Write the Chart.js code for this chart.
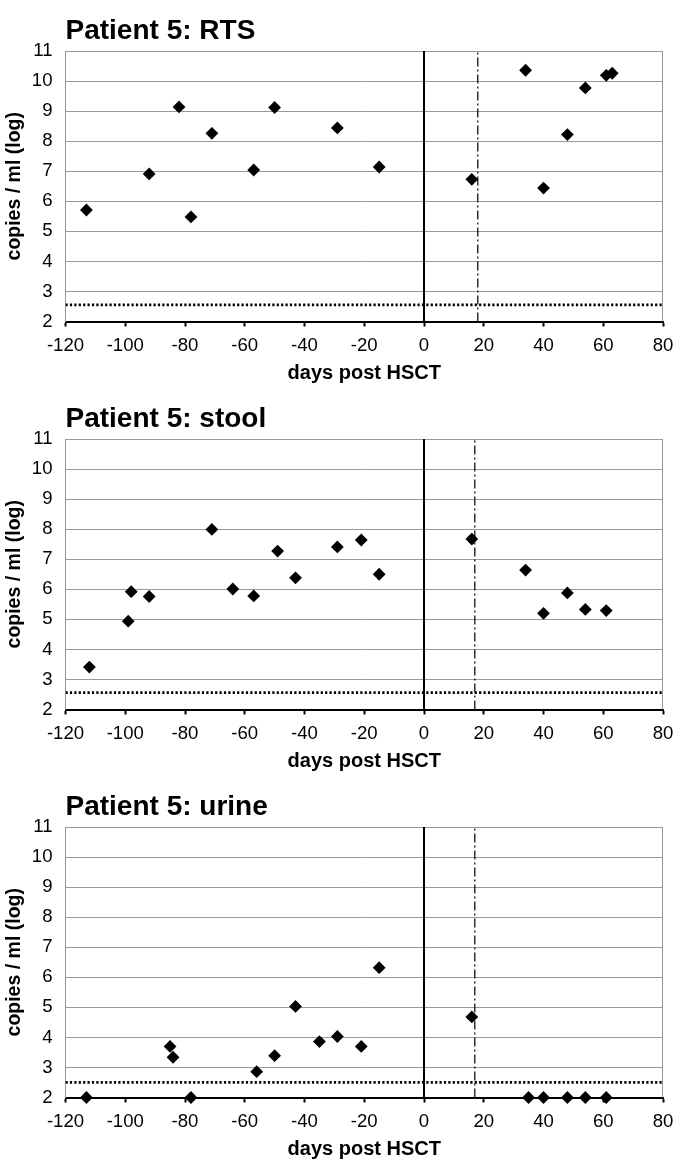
<!DOCTYPE html>
<html lang="en">
<head>
  <meta charset="UTF-8">
  <title>Patient 5</title>
  <script src="https://cdn.jsdelivr.net/npm/chart.js"></script>
  <style>
    body { margin: 0; background: #FFFFFF; }
    canvas { display: block; }
  </style>
</head>
<body>
  <canvas id="graficoRts" width="685" height="388"></canvas>
  <canvas id="graficoStool" width="685" height="388"></canvas>
  <canvas id="graficoUrine" width="685" height="388"></canvas>

  <script>
    const titulos = ["Patient 5: RTS", "Patient 5: stool", "Patient 5: urine"];
    const xTickLabels = [-120, -100, -80, -60, -40, -20, 0, 20, 40, 60, 80];
    const yTickLabels = [2, 3, 4, 5, 6, 7, 8, 9, 10, 11];

    const rtsDays = [-113, -92, -82, -78, -71, -57, -50, -29, -15, 16, 34, 40, 48, 54, 61, 63];
    const rtsLoad = [5.71, 6.91, 9.14, 5.48, 8.26, 7.04, 9.12, 8.44, 7.14, 6.73, 10.36, 6.44, 8.22, 9.77, 10.19, 10.26];

    const stoolDays = [-112, -99, -98, -92, -71, -64, -57, -49, -43, -29, -21, -15, 16, 34, 40, 48, 54, 61];
    const stoolLoad = [3.41, 4.94, 5.92, 5.76, 7.99, 6.01, 5.78, 7.27, 6.38, 7.41, 7.64, 6.5, 7.67, 6.64, 5.2, 5.88, 5.33, 5.29];

    const urineDays = [-113, -85, -84, -78, -56, -50, -43, -35, -29, -21, -15, 16, 35, 40, 48, 54, 61];
    const urineLoad = [2, 3.7, 3.34, 2, 2.86, 3.39, 5.03, 3.86, 4.03, 3.7, 6.32, 4.68, 2, 2, 2, 2, 2];

    const diaHsct = 0;                          // linha solida
    const diaEnxerto = [18, 17, 17];            // linha traco-ponto
    const limiteDeteccao = [2.55, 2.56, 2.5];   // linha pontilhada

    const fonte = "'Liberation Sans', Arial, sans-serif";

    // moldura cinza em cima e a direita da area do grafico
    const moldura = {
      id: "moldura",
      beforeDatasetsDraw(chart) {
        const { ctx, chartArea: a } = chart;
        ctx.save();
        ctx.strokeStyle = "#999";
        ctx.lineWidth = 1;
        ctx.beginPath();
        ctx.moveTo(a.left, a.top + 0.5);
        ctx.lineTo(a.right - 0.5, a.top + 0.5);
        ctx.lineTo(a.right - 0.5, a.bottom);
        ctx.stroke();
        ctx.restore();
      }
    };

    function criarGrafico(id, titulo, dias, cargas, enxerto, limite) {
      const xMin = xTickLabels[0], xMax = xTickLabels[xTickLabels.length - 1];
      const yMin = yTickLabels[0], yMax = yTickLabels[yTickLabels.length - 1];

      return new Chart(document.getElementById(id), {
        type: "scatter",
        data: {
          datasets: [
            {
              data: dias.map((d, i) => ({ x: d, y: cargas[i] })),
              pointStyle: "rectRot",
              pointRadius: 6.4,
              backgroundColor: "#000",
              borderColor: "#000",
              borderWidth: 0,
              clip: false,
              order: 0
            },
            {
              data: [{ x: diaHsct, y: yMin }, { x: diaHsct, y: yMax }],
              showLine: true, pointRadius: 0,
              borderColor: "#000", borderWidth: 2,
              order: 1
            },
            {
              data: [{ x: enxerto, y: yMin }, { x: enxerto, y: yMax }],
              showLine: true, pointRadius: 0,
              borderColor: "#111", borderWidth: 1.3,
              borderDash: [9, 3, 2, 3],
              order: 1
            },
            {
              data: [{ x: xMin, y: limite }, { x: xMax, y: limite }],
              showLine: true, pointRadius: 0,
              borderColor: "#000", borderWidth: 2.7,
              borderDash: [2.2, 2.2],
              order: 1
            }
          ]
        },
        options: {
          responsive: false,
          animation: false,
          events: [],
          layout: { padding: { top: 14, left: 0, right: 22, bottom: 3 } },
          plugins: {
            legend: { display: false },
            tooltip: { enabled: false },
            title: {
              display: true,
              text: titulo,
              align: "start",
              fullSize: false,
              color: "#000",
              font: { family: fonte, size: 28, weight: "bold" },
              padding: { top: 0, bottom: 3.4 }
            }
          },
          scales: {
            x: {
              type: "linear",
              min: xMin, max: xMax,
              afterBuildTicks: axis => { axis.ticks = xTickLabels.map(v => ({ value: v })); },
              afterFit: axis => { axis.height = 63.5; },
              grid: { drawOnChartArea: false, drawTicks: true, tickLength: 5, tickColor: "#000", tickWidth: 2 },
              border: { color: "#000", width: 2 },
              ticks: { color: "#000", padding: 8, maxRotation: 0, font: { family: fonte, size: 18.6 } },
              title: {
                display: true,
                text: "days post HSCT",
                color: "#000",
                font: { family: fonte, size: 20, weight: "bold" },
                padding: { top: 0, bottom: 0 }
              }
            },
            y: {
              type: "linear",
              min: yMin, max: yMax,
              afterBuildTicks: axis => { axis.ticks = yTickLabels.map(v => ({ value: v })); },
              afterFit: axis => { axis.width = 65.5; },
              grid: { color: "#999", lineWidth: 1, drawTicks: false },
              border: { color: "#999", width: 1 },
              ticks: { color: "#000", padding: 13, font: { family: fonte, size: 18.6 } },
              title: {
                display: true,
                text: "copies / ml (log)",
                color: "#000",
                font: { family: fonte, size: 19.5, weight: "bold" },
                padding: { top: 3, bottom: 3 }
              }
            }
          }
        },
        plugins: [moldura]
      });
    }

    criarGrafico("graficoRts", titulos[0], rtsDays, rtsLoad, diaEnxerto[0], limiteDeteccao[0]);
    criarGrafico("graficoStool", titulos[1], stoolDays, stoolLoad, diaEnxerto[1], limiteDeteccao[1]);
    criarGrafico("graficoUrine", titulos[2], urineDays, urineLoad, diaEnxerto[2], limiteDeteccao[2]);
  </script>
</body>
</html>
